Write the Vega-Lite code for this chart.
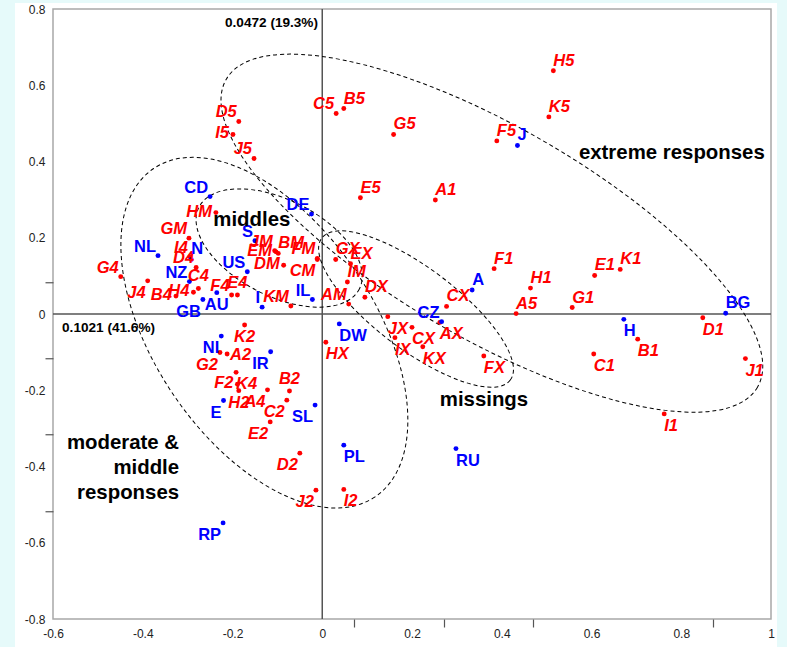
{
  "$schema": "https://vega.github.io/schema/vega-lite/v6.json",
  "width": 718,
  "height": 610,
  "autosize": {"type": "none"},
  "padding": {"left": 53, "top": 9, "right": 16, "bottom": 28},
  "background": "#E6FAFA",
  "config": {"view": {"stroke": null}, "font": "Liberation Sans"},
  "datasets": {
    "pts": [
      {"n": "D5", "g": "i", "x": -0.186, "y": 0.505, "lp": "ul"},
      {"n": "I5", "g": "i", "x": -0.199, "y": 0.471, "lp": "l"},
      {"n": "J5", "g": "i", "x": -0.152, "y": 0.408, "lp": "ul"},
      {"n": "C5", "g": "i", "x": 0.031, "y": 0.526, "lp": "ul"},
      {"n": "B5", "g": "i", "x": 0.048, "y": 0.539, "lp": "ur"},
      {"n": "G5", "g": "i", "x": 0.159, "y": 0.471, "lp": "ur"},
      {"n": "H5", "g": "i", "x": 0.515, "y": 0.638, "lp": "ur"},
      {"n": "K5", "g": "i", "x": 0.505, "y": 0.517, "lp": "ur"},
      {"n": "F5", "g": "i", "x": 0.389, "y": 0.454, "lp": "ur"},
      {"n": "E5", "g": "i", "x": 0.085, "y": 0.305, "lp": "ur"},
      {"n": "A1", "g": "i", "x": 0.252, "y": 0.299, "lp": "ur"},
      {"n": "HM", "g": "i", "x": -0.237, "y": 0.266, "lp": "l"},
      {"n": "GM", "g": "i", "x": -0.297, "y": 0.199, "lp": "ul"},
      {"n": "I4", "g": "i", "x": -0.295, "y": 0.150, "lp": "ul"},
      {"n": "D4", "g": "i", "x": -0.281, "y": 0.122, "lp": "ul"},
      {"n": "G4", "g": "i", "x": -0.449, "y": 0.098, "lp": "ul"},
      {"n": "J4", "g": "i", "x": -0.389, "y": 0.087, "lp": "bl"},
      {"n": "B4", "g": "i", "x": -0.326, "y": 0.047, "lp": "l"},
      {"n": "C4", "g": "i", "x": -0.276, "y": 0.067, "lp": "u"},
      {"n": "H4", "g": "i", "x": -0.287, "y": 0.057, "lp": "l"},
      {"n": "F4", "g": "i", "x": -0.202, "y": 0.050, "lp": "ul"},
      {"n": "E4", "g": "i", "x": -0.189, "y": 0.050, "lp": "u"},
      {"n": "JM", "g": "i", "x": -0.106, "y": 0.166, "lp": "ul"},
      {"n": "BM", "g": "i", "x": -0.098, "y": 0.159, "lp": "ur"},
      {"n": "EM", "g": "i", "x": -0.103, "y": 0.163, "lp": "l"},
      {"n": "DM", "g": "i", "x": -0.086, "y": 0.128, "lp": "l"},
      {"n": "FM", "g": "i", "x": -0.011, "y": 0.146, "lp": "ul"},
      {"n": "CM", "g": "i", "x": -0.011, "y": 0.143, "lp": "bl"},
      {"n": "KM", "g": "i", "x": -0.070, "y": 0.021, "lp": "ul"},
      {"n": "GX", "g": "i", "x": 0.030, "y": 0.143, "lp": "ur"},
      {"n": "EX", "g": "i", "x": 0.063, "y": 0.132, "lp": "ur"},
      {"n": "IM", "g": "i", "x": 0.056, "y": 0.084, "lp": "ur"},
      {"n": "AM", "g": "i", "x": 0.059, "y": 0.026, "lp": "ul"},
      {"n": "DX", "g": "i", "x": 0.095, "y": 0.044, "lp": "ur"},
      {"n": "CX", "g": "i", "x": 0.277, "y": 0.020, "lp": "ur"},
      {"n": "JX", "g": "i", "x": 0.146, "y": -0.007, "lp": "br"},
      {"n": "CX", "g": "i", "x": 0.200, "y": -0.035, "lp": "br"},
      {"n": "IX", "g": "i", "x": 0.162, "y": -0.062, "lp": "br"},
      {"n": "KX", "g": "i", "x": 0.224, "y": -0.086, "lp": "br"},
      {"n": "AX", "g": "i", "x": 0.262, "y": -0.022, "lp": "br"},
      {"n": "FX", "g": "i", "x": 0.360, "y": -0.110, "lp": "br"},
      {"n": "HX", "g": "i", "x": 0.008, "y": -0.074, "lp": "br"},
      {"n": "F1", "g": "i", "x": 0.383, "y": 0.119, "lp": "ur"},
      {"n": "E1", "g": "i", "x": 0.607, "y": 0.101, "lp": "ur"},
      {"n": "K1", "g": "i", "x": 0.664, "y": 0.117, "lp": "ur"},
      {"n": "H1", "g": "i", "x": 0.464, "y": 0.068, "lp": "ur"},
      {"n": "A5", "g": "i", "x": 0.432, "y": 0.001, "lp": "ur"},
      {"n": "G1", "g": "i", "x": 0.557, "y": 0.017, "lp": "ur"},
      {"n": "D1", "g": "i", "x": 0.848, "y": -0.010, "lp": "br"},
      {"n": "B1", "g": "i", "x": 0.703, "y": -0.066, "lp": "br"},
      {"n": "C1", "g": "i", "x": 0.605, "y": -0.105, "lp": "br"},
      {"n": "J1", "g": "i", "x": 0.943, "y": -0.117, "lp": "br"},
      {"n": "I1", "g": "i", "x": 0.762, "y": -0.262, "lp": "br"},
      {"n": "K2", "g": "i", "x": -0.173, "y": -0.029, "lp": "b"},
      {"n": "G2", "g": "i", "x": -0.228, "y": -0.101, "lp": "bl"},
      {"n": "A2", "g": "i", "x": -0.212, "y": -0.105, "lp": "r"},
      {"n": "K4", "g": "i", "x": -0.192, "y": -0.153, "lp": "br"},
      {"n": "F2", "g": "i", "x": -0.189, "y": -0.184, "lp": "l"},
      {"n": "H2", "g": "i", "x": -0.186, "y": -0.201, "lp": "b"},
      {"n": "A4", "g": "i", "x": -0.122, "y": -0.199, "lp": "bl"},
      {"n": "B2", "g": "i", "x": -0.073, "y": -0.202, "lp": "u"},
      {"n": "C2", "g": "i", "x": -0.079, "y": -0.226, "lp": "bl"},
      {"n": "E2", "g": "i", "x": -0.116, "y": -0.283, "lp": "bl"},
      {"n": "D2", "g": "i", "x": -0.050, "y": -0.365, "lp": "bl"},
      {"n": "J2", "g": "i", "x": -0.014, "y": -0.462, "lp": "bl"},
      {"n": "I2", "g": "i", "x": 0.048, "y": -0.460, "lp": "br"},
      {"n": "CD", "g": "c", "x": -0.250, "y": 0.308, "lp": "ul"},
      {"n": "DE", "g": "c", "x": -0.024, "y": 0.262, "lp": "ul"},
      {"n": "S", "g": "c", "x": -0.150, "y": 0.192, "lp": "ul"},
      {"n": "NL", "g": "c", "x": -0.366, "y": 0.153, "lp": "ul"},
      {"n": "N", "g": "c", "x": -0.292, "y": 0.143, "lp": "ur"},
      {"n": "US", "g": "c", "x": -0.167, "y": 0.111, "lp": "ul"},
      {"n": "NZ", "g": "c", "x": -0.296, "y": 0.085, "lp": "ul"},
      {"n": "GB", "g": "c", "x": -0.266, "y": 0.038, "lp": "bl"},
      {"n": "AU", "g": "c", "x": -0.235, "y": 0.056, "lp": "b"},
      {"n": "I", "g": "c", "x": -0.134, "y": 0.018, "lp": "ul"},
      {"n": "IL", "g": "c", "x": -0.022, "y": 0.038, "lp": "ul"},
      {"n": "NI", "g": "c", "x": -0.225, "y": -0.058, "lp": "bl"},
      {"n": "IR", "g": "c", "x": -0.115, "y": -0.099, "lp": "bl"},
      {"n": "E", "g": "c", "x": -0.220, "y": -0.227, "lp": "bl"},
      {"n": "SL", "g": "c", "x": -0.016, "y": -0.239, "lp": "bl"},
      {"n": "DW", "g": "c", "x": 0.038, "y": -0.026, "lp": "br"},
      {"n": "PL", "g": "c", "x": 0.048, "y": -0.344, "lp": "br"},
      {"n": "RP", "g": "c", "x": -0.221, "y": -0.548, "lp": "bl"},
      {"n": "RU", "g": "c", "x": 0.298, "y": -0.353, "lp": "br"},
      {"n": "CZ", "g": "c", "x": 0.266, "y": -0.020, "lp": "ul"},
      {"n": "A", "g": "c", "x": 0.334, "y": 0.063, "lp": "ur"},
      {"n": "J", "g": "c", "x": 0.435, "y": 0.442, "lp": "ur"},
      {"n": "H", "g": "c", "x": 0.672, "y": -0.014, "lp": "br"},
      {"n": "BG", "g": "c", "x": 0.899, "y": 0.002, "lp": "ur"}
    ],
    "ell": [
      {"e": "extreme", "x": 0.378, "y": 0.212},
      {"e": "moderate", "x": -0.129, "y": -0.049},
      {"e": "middles", "x": -0.096, "y": 0.173},
      {"e": "missings", "x": 0.209, "y": 0.013}
    ],
    "notes": [
      {"t": "extreme responses", "x": 0.779, "y": 0.4215},
      {"t": "middles", "x": -0.157, "y": 0.2466},
      {"t": "missings", "x": 0.3604, "y": -0.2256}
    ],
    "notes2": [
      {"t": "moderate &\nmiddle\nresponses", "x": -0.319, "y": -0.338}
    ],
    "axnotes": [
      {"t": "0.0472 (19.3%)", "x": -0.0095, "y": 0.763},
      {"t": "0.1021 (41.6%)", "x": -0.3727, "y": -0.0367}
    ]
  },
  "layer": [
    {
      "data": {"values": [{}]},
      "mark": {"type": "rect", "fill": "white"},
      "encoding": {
        "x": {"datum": -0.6847, "type": "quantitative",
              "scale": {"domain": [-0.6, 1], "nice": false, "zero": false},
              "axis": {"orient": "bottom", "values": [-0.6, -0.4, -0.2, 0, 0.2, 0.4, 0.6, 0.8, 1],
                       "labelExpr": "'' + datum.value", "ticks": false, "domain": false, "grid": false,
                       "title": null, "labelPadding": 9, "labelFontSize": 12, "labelColor": "#222",
                       "labelFont": "Liberation Sans", "labelFlush": false, "labelOverlap": false,
                       "labelBound": false, "zindex": 2}},
        "x2": {"datum": 1.0134},
        "y": {"datum": 0.8157, "type": "quantitative",
              "scale": {"domain": [-0.8, 0.8], "nice": false, "zero": false},
              "axis": {"orient": "left", "values": [-0.8, -0.6, -0.4, -0.2, 0, 0.2, 0.4, 0.6, 0.8],
                       "labelExpr": "'' + datum.value", "ticks": false, "domain": false, "grid": false,
                       "title": null, "labelPadding": 8, "labelFontSize": 12, "labelColor": "#222",
                       "labelFont": "Liberation Sans", "labelFlush": false, "labelOverlap": false,
                       "labelBound": false, "zindex": 2}},
        "y2": {"datum": -0.9}
      }
    },
    {
      "data": {"values": [{}]},
      "mark": {"type": "rect", "filled": false, "fill": "transparent", "stroke": "#A8A8A8", "strokeWidth": 1.5},
      "encoding": {
        "x": {"datum": -0.6, "type": "quantitative", "scale": {"domain": [-0.6, 1], "nice": false, "zero": false}, "axis": null},
        "x2": {"datum": 1},
        "y": {"datum": 0.8, "type": "quantitative", "scale": {"domain": [-0.8, 0.8], "nice": false, "zero": false}, "axis": null},
        "y2": {"datum": -0.8}
      }
    },
    {
      "data": {"values": [{}]},
      "mark": {"type": "rule", "stroke": "#555555", "strokeWidth": 1.5},
      "encoding": {
        "x": {"datum": 0, "type": "quantitative",
              "scale": {"domain": [-0.6, 1], "nice": false, "zero": false},
              "axis": {"orient": "bottom", "position": 301, "values": [-0.6, -0.4, -0.2, 0.2, 0.4, 0.6, 0.8, 1],
                       "labels": false, "ticks": true, "tickSize": 8, "tickColor": "#555555", "tickWidth": 1.2,
                       "domain": false, "grid": false, "title": null, "zindex": 2}}
      }
    },
    {
      "data": {"values": [{}]},
      "mark": {"type": "rule", "stroke": "#555555", "strokeWidth": 1.5},
      "encoding": {
        "y": {"datum": 0, "type": "quantitative",
              "scale": {"domain": [-0.8, 0.8], "nice": false, "zero": false},
              "axis": {"orient": "left", "position": 273.25, "values": [-0.8, -0.6, -0.4, -0.2, 0.2, 0.4, 0.6, 0.8],
                       "labels": false, "ticks": true, "tickSize": 8, "tickColor": "#555555", "tickWidth": 1.2,
                       "domain": false, "grid": false, "title": null, "zindex": 2}}
      }
    },
    {
      "data": {"name": "ell"},
      "transform": [{"filter": "datum.e == 'extreme'"}],
      "mark": {"type": "point", "shape": "M1,0C1,0.19,0.552,0.344,0,0.344C-0.552,0.344,-1,0.19,-1,0C-1,-0.19,-0.552,-0.344,0,-0.344C0.552,-0.344,1,-0.19,1,0Z",
               "size": 376996, "angle": 30.1, "filled": false, "stroke": "#000000", "strokeWidth": 1, "strokeDash": [4, 3], "opacity": 1},
      "encoding": {
        "x": {"field": "x", "type": "quantitative", "scale": {"domain": [-0.6, 1], "nice": false, "zero": false}, "axis": null},
        "y": {"field": "y", "type": "quantitative", "scale": {"domain": [-0.8, 0.8], "nice": false, "zero": false}, "axis": null}
      }
    },
    {
      "data": {"name": "ell"},
      "transform": [{"filter": "datum.e == 'moderate'"}],
      "mark": {"type": "point", "shape": "M1,0C1,0.307,0.552,0.556,0,0.556C-0.552,0.556,-1,0.307,-1,0C-1,-0.307,-0.552,-0.556,0,-0.556C0.552,-0.556,1,-0.307,1,0Z",
               "size": 156816, "angle": 56, "filled": false, "stroke": "#000000", "strokeWidth": 1, "strokeDash": [4, 3], "opacity": 1},
      "encoding": {
        "x": {"field": "x", "type": "quantitative", "scale": {"domain": [-0.6, 1], "nice": false, "zero": false}, "axis": null},
        "y": {"field": "y", "type": "quantitative", "scale": {"domain": [-0.8, 0.8], "nice": false, "zero": false}, "axis": null}
      }
    },
    {
      "data": {"name": "ell"},
      "transform": [{"filter": "datum.e == 'middles'"}],
      "mark": {"type": "point", "shape": "M1,0C1,0.294,0.552,0.533,0,0.533C-0.552,0.533,-1,0.294,-1,0C-1,-0.294,-0.552,-0.533,0,-0.533C0.552,-0.533,1,-0.294,1,0Z",
               "size": 32400, "angle": 27, "filled": false, "stroke": "#000000", "strokeWidth": 1, "strokeDash": [4, 3], "opacity": 1},
      "encoding": {
        "x": {"field": "x", "type": "quantitative", "scale": {"domain": [-0.6, 1], "nice": false, "zero": false}, "axis": null},
        "y": {"field": "y", "type": "quantitative", "scale": {"domain": [-0.8, 0.8], "nice": false, "zero": false}, "axis": null}
      }
    },
    {
      "data": {"name": "ell"},
      "transform": [{"filter": "datum.e == 'missings'"}],
      "mark": {"type": "point", "shape": "M1,0C1,0.192,0.552,0.347,0,0.347C-0.552,0.347,-1,0.192,-1,0C-1,-0.192,-0.552,-0.347,0,-0.347C0.552,-0.347,1,-0.192,1,0Z",
               "size": 55696, "angle": 37, "filled": false, "stroke": "#000000", "strokeWidth": 1, "strokeDash": [4, 3], "opacity": 1},
      "encoding": {
        "x": {"field": "x", "type": "quantitative", "scale": {"domain": [-0.6, 1], "nice": false, "zero": false}, "axis": null},
        "y": {"field": "y", "type": "quantitative", "scale": {"domain": [-0.8, 0.8], "nice": false, "zero": false}, "axis": null}
      }
    },
    {
      "data": {"name": "pts"},
      "mark": {"type": "circle", "size": 24, "opacity": 1},
      "encoding": {
        "x": {"field": "x", "type": "quantitative", "scale": {"domain": [-0.6, 1], "nice": false, "zero": false}, "axis": null},
        "y": {"field": "y", "type": "quantitative", "scale": {"domain": [-0.8, 0.8], "nice": false, "zero": false}, "axis": null},
        "color": {"field": "g", "type": "nominal", "scale": {"domain": ["i", "c"], "range": ["#FF0000", "#0000FF"]}, "legend": null}
      }
    },
    {
      "data": {"name": "pts"},
      "mark": {
        "type": "text", "fontSize": 16.5, "fontWeight": "bold", "font": "Liberation Sans",
        "fontStyle": {"expr": "datum.g == 'i' ? 'italic' : 'normal'"},
        "align": {"expr": "indexof(['ul','l','bl'], datum.lp) >= 0 ? 'right' : (indexof(['ur','r','br'], datum.lp) >= 0 ? 'left' : 'center')"},
        "baseline": {"expr": "indexof(['ul','ur','u'], datum.lp) >= 0 ? 'alphabetic' : (indexof(['bl','br','b'], datum.lp) >= 0 ? 'top' : 'middle')"},
        "dx": {"expr": "datum.lp == 'ul' ? -2 : datum.lp == 'l' ? -4 : datum.lp == 'bl' ? -2 : datum.lp == 'r' ? 3 : 0"},
        "dy": {"expr": "datum.lp == 'ul' ? -4 : datum.lp == 'ur' ? -5 : datum.lp == 'u' ? -7 : datum.lp == 'l' ? -1 : datum.lp == 'r' ? 1 : 4"}
      },
      "encoding": {
        "x": {"field": "x", "type": "quantitative", "scale": {"domain": [-0.6, 1], "nice": false, "zero": false}, "axis": null},
        "y": {"field": "y", "type": "quantitative", "scale": {"domain": [-0.8, 0.8], "nice": false, "zero": false}, "axis": null},
        "text": {"field": "n", "type": "nominal"},
        "color": {"field": "g", "type": "nominal", "scale": {"domain": ["i", "c"], "range": ["#FF0000", "#0000FF"]}, "legend": null}
      }
    },
    {
      "data": {"name": "notes"},
      "mark": {"type": "text", "fontSize": 20.4, "fontWeight": "bold", "font": "Liberation Sans", "color": "#000000", "align": "center", "baseline": "middle"},
      "encoding": {
        "x": {"field": "x", "type": "quantitative", "scale": {"domain": [-0.6, 1], "nice": false, "zero": false}, "axis": null},
        "y": {"field": "y", "type": "quantitative", "scale": {"domain": [-0.8, 0.8], "nice": false, "zero": false}, "axis": null},
        "text": {"field": "t", "type": "nominal"}
      }
    },
    {
      "data": {"name": "notes2"},
      "mark": {"type": "text", "fontSize": 20.4, "fontWeight": "bold", "font": "Liberation Sans", "color": "#000000", "align": "right", "baseline": "middle", "lineBreak": "\n", "lineHeight": 25},
      "encoding": {
        "x": {"field": "x", "type": "quantitative", "scale": {"domain": [-0.6, 1], "nice": false, "zero": false}, "axis": null},
        "y": {"field": "y", "type": "quantitative", "scale": {"domain": [-0.8, 0.8], "nice": false, "zero": false}, "axis": null},
        "text": {"field": "t", "type": "nominal"}
      }
    },
    {
      "data": {"name": "axnotes"},
      "mark": {"type": "text", "fontSize": 13.6, "fontWeight": "bold", "font": "Liberation Sans", "color": "#000000", "align": "right", "baseline": "middle"},
      "encoding": {
        "x": {"field": "x", "type": "quantitative", "scale": {"domain": [-0.6, 1], "nice": false, "zero": false}, "axis": null},
        "y": {"field": "y", "type": "quantitative", "scale": {"domain": [-0.8, 0.8], "nice": false, "zero": false}, "axis": null},
        "text": {"field": "t", "type": "nominal"}
      }
    }
  ],
  "resolve": {"axis": {"x": "independent", "y": "independent"}}
}
